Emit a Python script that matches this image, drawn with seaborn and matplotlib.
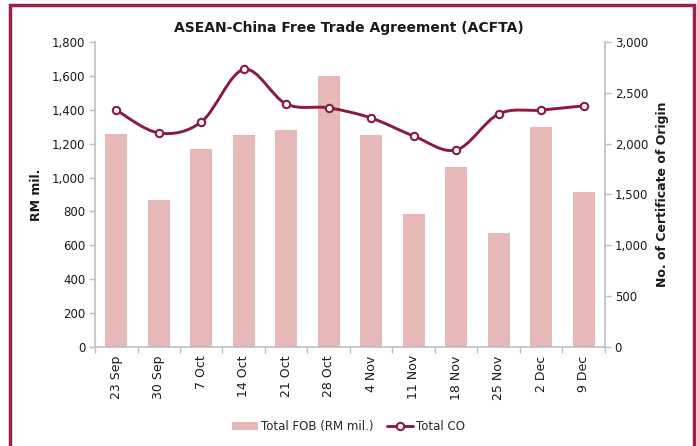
import numpy as np
import pandas as pd
import matplotlib
matplotlib.use("Agg")
import matplotlib.pyplot as plt
import seaborn as sns
from matplotlib.path import Path
from matplotlib.patches import PathPatch, Rectangle, Patch
from matplotlib.lines import Line2D
from matplotlib.ticker import FuncFormatter, MultipleLocator

categories = ["23 Sep", "30 Sep", "7 Oct", "14 Oct", "21 Oct", "28 Oct",
              "4 Nov", "11 Nov", "18 Nov", "25 Nov", "2 Dec", "9 Dec"]
fob_values = [1255, 870, 1168, 1250, 1278, 1598, 1250, 783, 1063, 672, 1300, 912]
co_values = [2330, 2105, 2213, 2730, 2390, 2352, 2252, 2075, 1938, 2292, 2330, 2372]

title = "ASEAN-China Free Trade Agreement (ACFTA)"
bar_label = "Total FOB (RM mil.)"
line_label = "Total CO"

sns.set_theme(style="white")
plt.rcParams["font.family"] = ["DejaVu Sans"]

bar_color = "#E6B8B7"
line_color = "#8B1A3F"
border_color = "#9E1F4C"
spine_color = "#BFBFBF"
text_color = "#1A1A1A"

df = pd.DataFrame({"week": categories, "fob": fob_values, "co": co_values})

fig = plt.figure(figsize=(6.97, 4.46), dpi=100)
ax = fig.add_axes([0.1363, 0.222, 0.7317, 0.6839])

sns.barplot(data=df, x="week", y="fob", ax=ax, color=bar_color, width=0.51,
            saturation=1, edgecolor="none")
ax.set_xlim(-0.5, len(categories) - 0.5)
ax.set_ylim(0, 1800)
ax.yaxis.set_major_locator(MultipleLocator(200))
ax.yaxis.set_major_formatter(FuncFormatter(lambda v, p: f"{int(v):,}"))

ax2 = ax.twinx()
ax2.set_ylim(0, 3000)
ax2.yaxis.set_major_locator(MultipleLocator(500))
ax2.yaxis.set_major_formatter(FuncFormatter(lambda v, p: f"{int(v):,}"))

# smoothed line (Catmull-Rom -> cubic Bezier) through the data points
xs = np.arange(len(co_values), dtype=float)
ys = np.array(co_values, dtype=float)
pts = np.column_stack([xs, ys])
verts = [pts[0]]
codes = [Path.MOVETO]
n = len(pts)
for i in range(n - 1):
    p0 = pts[i - 1] if i > 0 else pts[i]
    p1 = pts[i]
    p2 = pts[i + 1]
    p3 = pts[i + 2] if i + 2 < n else pts[i + 1]
    c1 = p1 + (p2 - p0) / 6.0
    c2 = p2 - (p3 - p1) / 6.0
    verts += [c1, c2, p2]
    codes += [Path.CURVE4] * 3
ax2.add_patch(PathPatch(Path(verts, codes), facecolor="none",
                        edgecolor=line_color, lw=2.1, zorder=3))
sns.scatterplot(x=xs, y=ys, ax=ax2, s=28, color="white", edgecolor=line_color,
                linewidth=1.5, zorder=4, legend=False)
ax2.set_xlim(-0.5, len(categories) - 0.5)

for a in (ax, ax2):
    for s in a.spines.values():
        s.set_visible(False)
ax.spines["left"].set_visible(True)
ax.spines["bottom"].set_visible(True)
ax2.spines["right"].set_visible(True)
for s in (ax.spines["left"], ax.spines["bottom"], ax2.spines["right"]):
    s.set_color(spine_color)
    s.set_linewidth(1.2)

ax.tick_params(axis="y", direction="out", length=4, width=1, color=spine_color,
               labelsize=8.5, labelcolor=text_color, left=True, pad=3)
ax2.tick_params(axis="y", direction="out", length=4, width=1, color=spine_color,
                labelsize=8.5, labelcolor=text_color, right=True, pad=3)
ax.set_xticks(range(len(categories)))
ax.set_xticklabels(categories, rotation=90, fontsize=9, color=text_color)
ax.set_xticks(np.arange(-0.5, len(categories), 1.0), minor=True)
ax.tick_params(axis="x", which="major", length=0, pad=6)
ax.tick_params(axis="x", which="minor", length=4, width=1, color=spine_color,
               bottom=True, direction="out")

ax.set_xlabel("")
ax.set_ylabel("RM mil.", fontsize=9, fontweight="bold", color=text_color, labelpad=6)
ax2.set_ylabel("No. of Certificate of Origin", fontsize=9, fontweight="bold",
               color=text_color, labelpad=6)
ax.set_zorder(1)
ax2.set_zorder(2)
ax2.patch.set_visible(False)

fig.text(0.5, 0.938, title, ha="center", va="center", fontsize=10,
         fontweight="bold", color=text_color)

handles = [Patch(facecolor=bar_color, edgecolor="none"),
           Line2D([0], [0], color=line_color, lw=2.1, marker="o", markersize=5.3,
                  markerfacecolor="white", markeredgecolor=line_color,
                  markeredgewidth=1.5)]
fig.legend(handles, [bar_label, line_label], loc="center", ncol=2,
           bbox_to_anchor=(0.5, 0.043), frameon=False, fontsize=8.5,
           handlelength=2.2, handletextpad=0.2, columnspacing=1.2)

fig.patches.append(Rectangle((10 / 697, -0.02), 684 / 697, 1 - 5 / 446 + 0.02,
                             transform=fig.transFigure, fill=False,
                             edgecolor=border_color, lw=2.5, zorder=10))

fig.savefig("out.png", dpi=100)
